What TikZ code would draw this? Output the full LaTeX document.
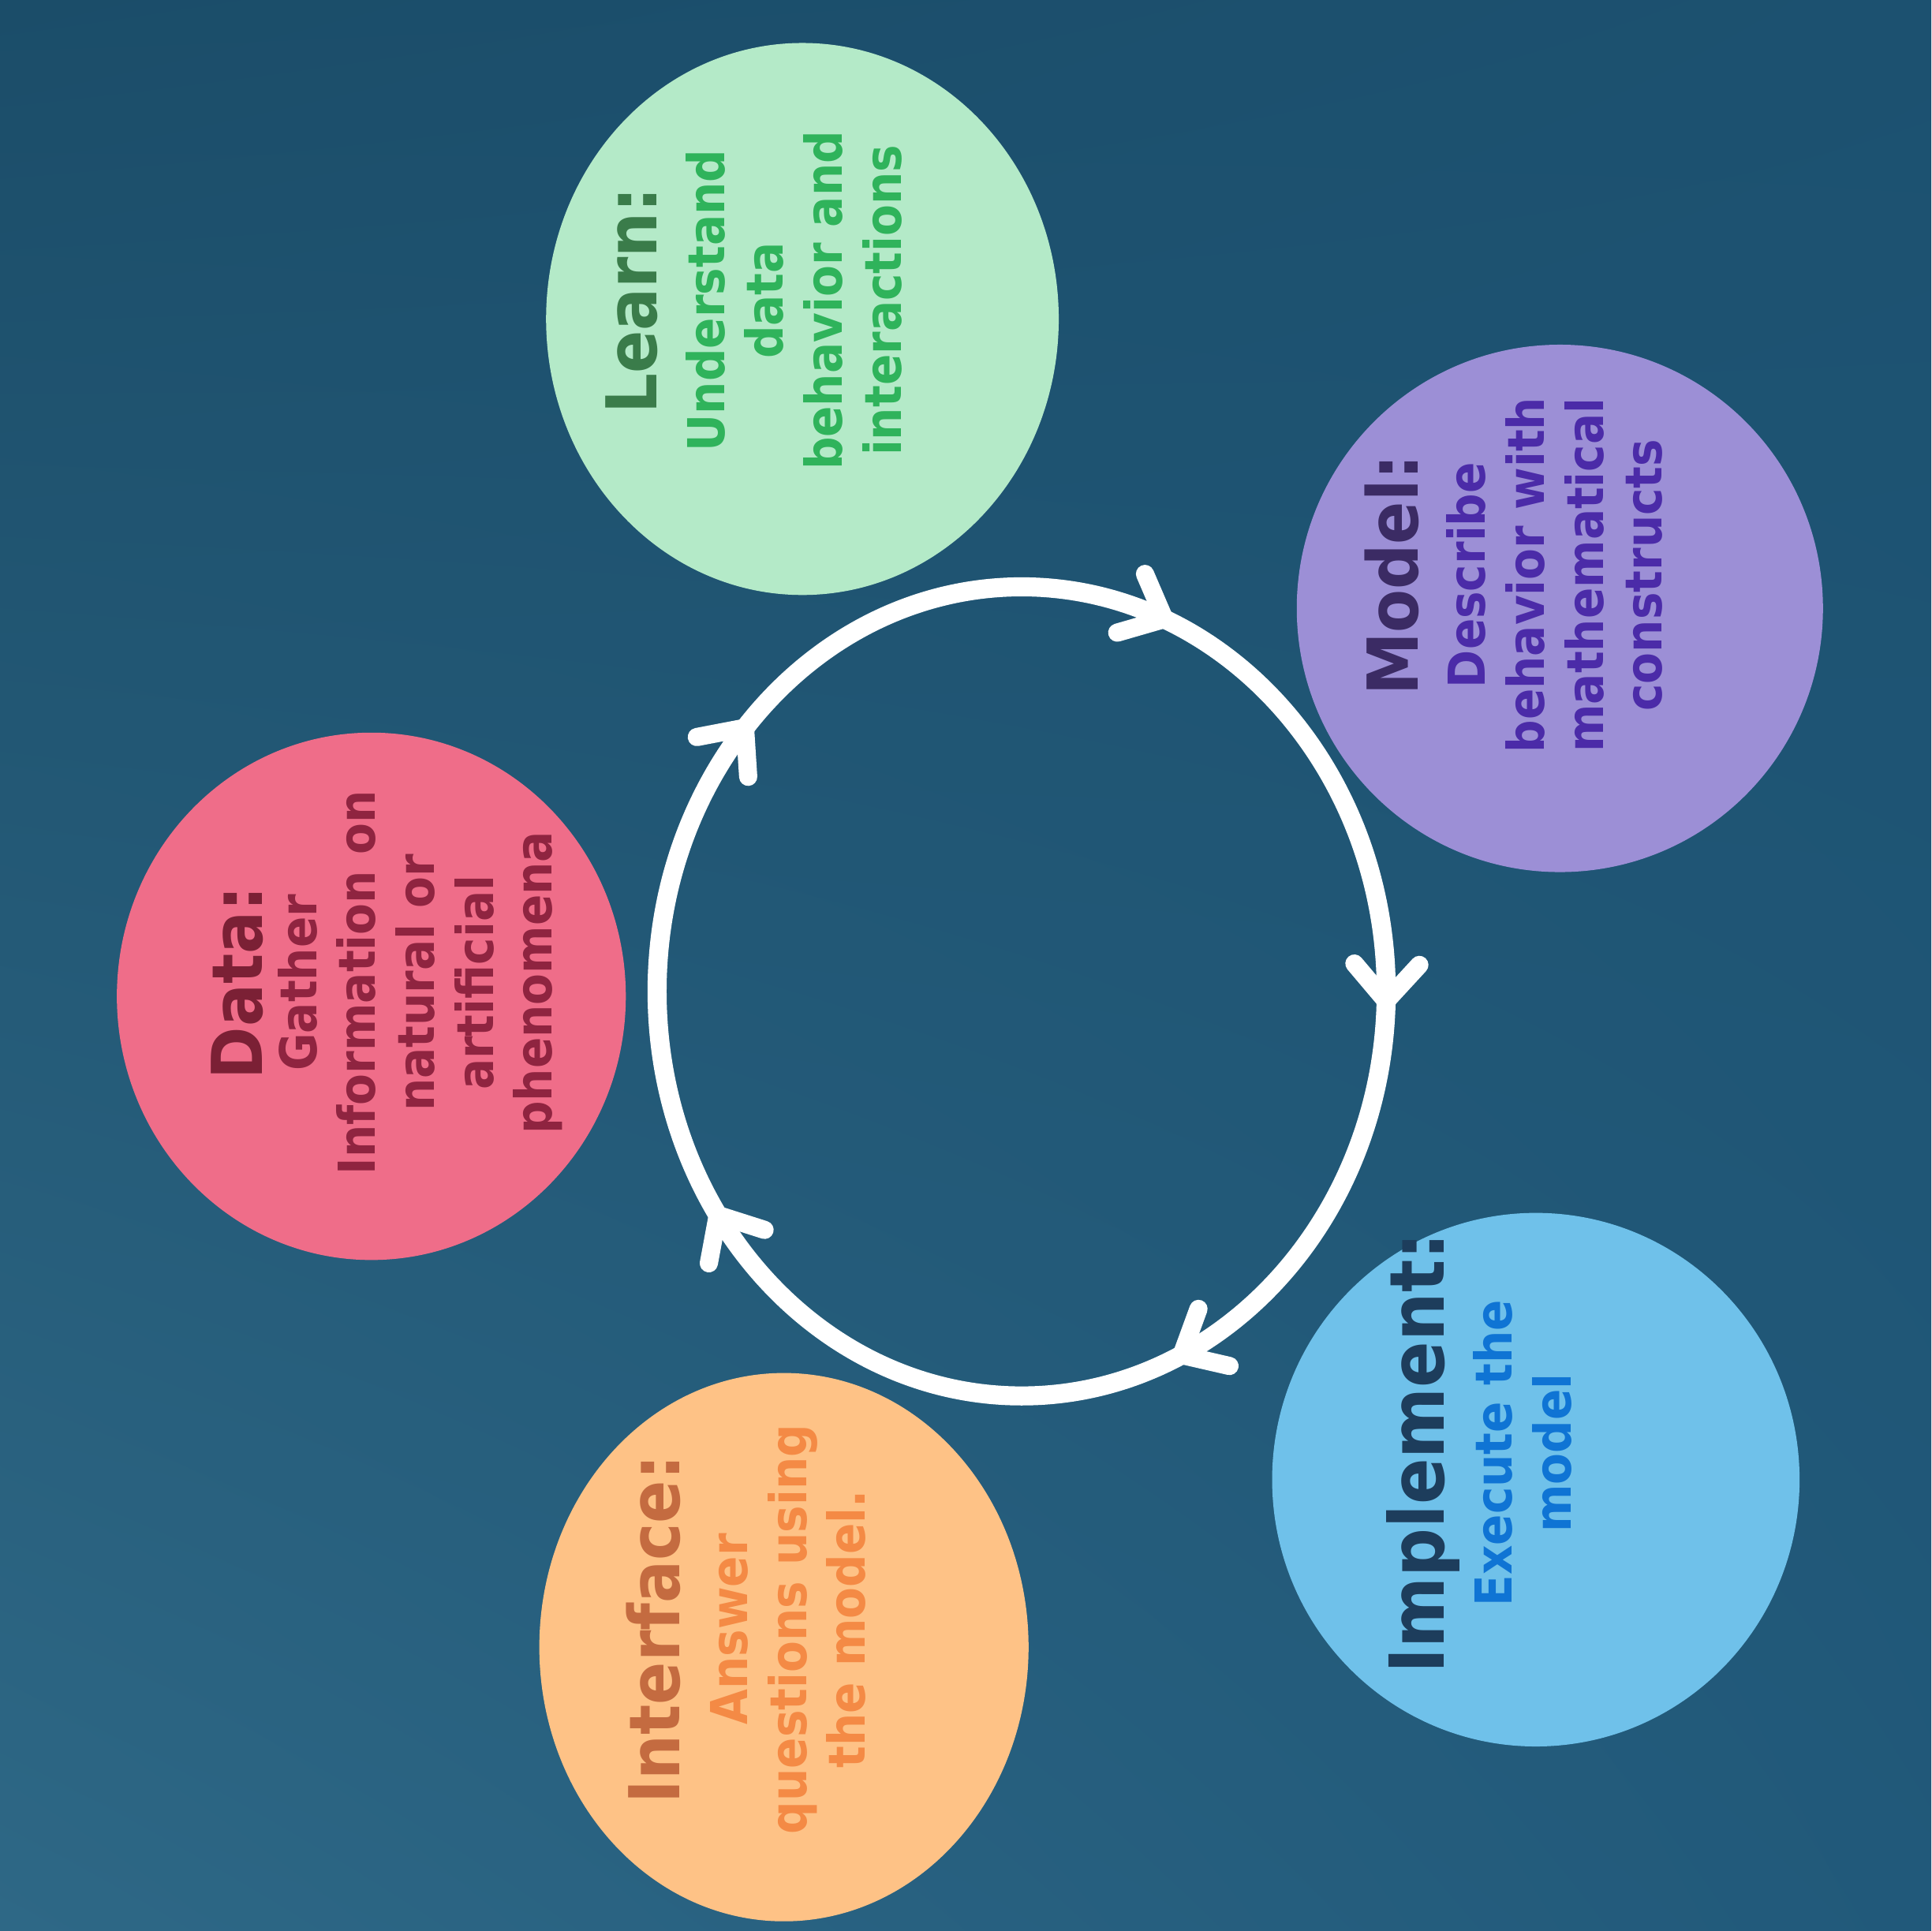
\documentclass[tikz,border=0pt]{standalone}
\usepackage{fontspec}
\setmainfont{DejaVu Sans}[FakeStretch=0.9]
\usetikzlibrary{shapes.geometric,decorations.markings,shadings}
\definecolor{bgUL}{HTML}{1B4D69}
\definecolor{bgUR}{HTML}{1C5170}
\definecolor{bgLL}{HTML}{2E6886}
\definecolor{bgLR}{HTML}{21597A}
\definecolor{learnfill}{HTML}{B4EAC8}
\definecolor{learntitle}{HTML}{3A7C4A}
\definecolor{learnbody}{HTML}{2FB35B}
\definecolor{modelfill}{HTML}{9C8FD6}
\definecolor{modeltitle}{HTML}{3B2B64}
\definecolor{modelbody}{HTML}{4B2BA8}
\definecolor{datafill}{HTML}{EF6D89}
\definecolor{datatitle}{HTML}{7B2035}
\definecolor{databody}{HTML}{8F2440}
\definecolor{implfill}{HTML}{6FC1EA}
\definecolor{impltitle}{HTML}{1D3D5C}
\definecolor{implbody}{HTML}{0F74D4}
\definecolor{intffill}{HTML}{FEC286}
\definecolor{intftitle}{HTML}{C46B40}
\definecolor{intfbody}{HTML}{F48A45}
\newcommand\bubtitle[2]{\textcolor{#1}{\fontsize{16.2}{16}\selectfont #2}}
\begin{document}
\begin{tikzpicture}[x=0.01cm,y=0.01cm,
  bubble/.style={ellipse, inner sep=0pt, draw=none},
  bubtext/.style={rotate=90, align=center, inner sep=0pt,
    font=\bfseries\fontsize{11.75}{13.6}\selectfont},
  ringline/.style={draw=white, line width=4.4pt},
  chevron/.style={draw=white, line width=4.2pt, line cap=round, line join=round}]
\useasboundingbox (0,0) rectangle (1568,-1568);
\shade[upper left=bgUL, upper right=bgUR, lower left=bgLL, lower right=bgLR]
  (0,0) rectangle (1568,-1568);

% ring with arrowheads
\coordinate (ringc) at (829.5,-805);
\draw[ringline, decoration={markings,
    mark=at position 0.189 with {\draw[chevron] (8.5pt,7.5pt) -- (0,0) -- (8.5pt,-7.5pt);},
    mark=at position 0.383 with {\draw[chevron] (8.5pt,7.5pt) -- (0,0) -- (8.5pt,-7.5pt);},
    mark=at position 0.597 with {\draw[chevron] (8.5pt,7.5pt) -- (0,0) -- (8.5pt,-7.5pt);},
    mark=at position 0.819 with {\draw[chevron] (8.5pt,7.5pt) -- (0,0) -- (8.5pt,-7.5pt);},
    mark=at position 0.996 with {\draw[chevron] (8.5pt,7.5pt) -- (0,0) -- (8.5pt,-7.5pt);}},
  postaction={decorate}]
  (ringc) ellipse [x radius=296, y radius=328.5];

% bubbles
\node[bubble, fill=learnfill, minimum width=4.16cm, minimum height=4.48cm] (learn) at (651.5,-259) {};
\node[bubble, fill=modelfill, minimum width=4.27cm, minimum height=4.28cm] (model) at (1266.5,-494) {};
\node[bubble, fill=datafill, minimum width=4.13cm, minimum height=4.28cm] (data) at (301.5,-809) {};
\node[bubble, fill=implfill, minimum width=4.28cm, minimum height=4.33cm] (impl) at (1247,-1201.5) {};
\node[bubble, fill=intffill, minimum width=3.97cm, minimum height=4.45cm] (intf) at (636.5,-1337.5) {};

% texts
\node[bubtext, text=learnbody] (learntext) at (612,-244)
  {\bubtitle{learntitle}{Learn:}\\[2pt] Understand\\ data\\ behavior and\\ interactions};
\node[bubtext, text=modelbody] (modeltext) at (1229,-467)
  {\bubtitle{modeltitle}{Model:}\\[2pt] Describe\\ behavior with\\ mathematical\\ constructs};
\node[bubtext, text=databody] (datatext) at (314,-798)
  {\bubtitle{datatitle}{Data:}\\[-1pt] Gather\\ Information on\\ natural or\\ artificial\\ phenomena};
\node[bubtext, text=implbody] (impltext) at (1201,-1180)
  {\textcolor{impltitle}{\fontsize{17.5}{17}\selectfont Implement:}\\[2pt] Execute the\\ model};
\node[bubtext, text=intfbody] (intftext) at (606,-1323)
  {\bubtitle{intftitle}{Interface:}\\[2pt] Answer\\ questions using\\ the model.};
\end{tikzpicture}
\end{document}
